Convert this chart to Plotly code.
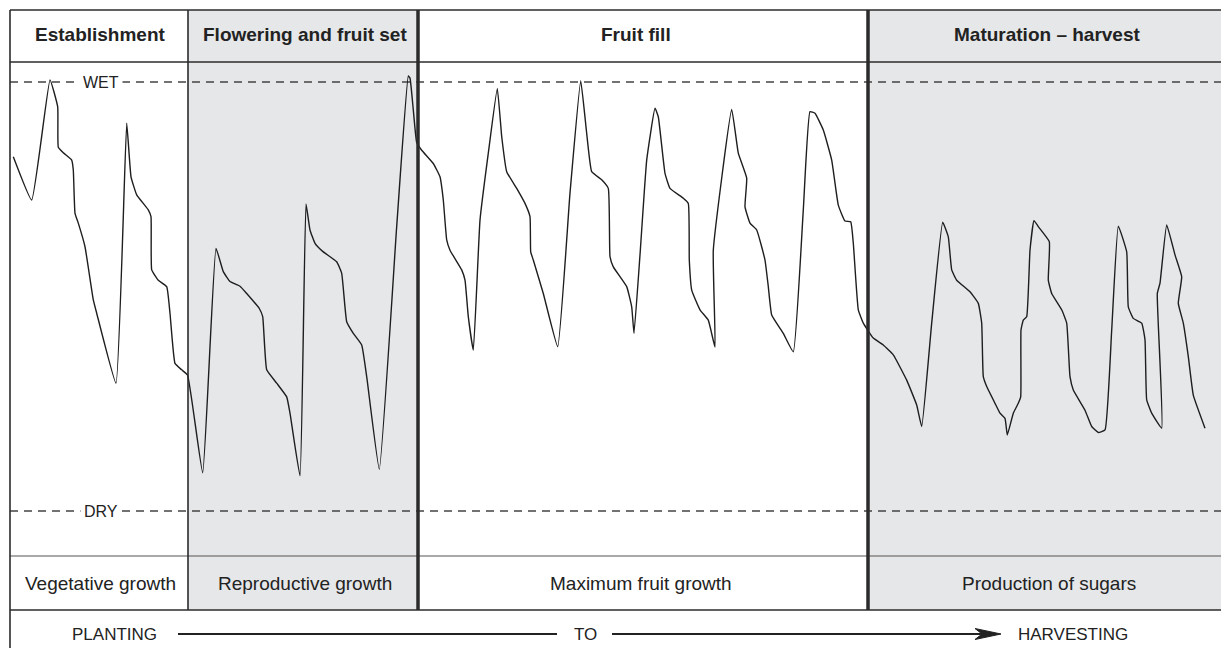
import plotly.graph_objects as go

# ---------------- data ----------------
# time axis (arbitrary units across the season) and relative soil moisture (DRY = 0, WET = 100)
time_x = [13.3, 31.7, 50, 57.7, 58.3, 63.3, 71.7, 73.3, 75, 78.3, 85, 93.3, 96.7, 116,
          126.7, 131, 136.7, 148.3, 151, 151.7, 158.3, 166.7, 170, 175, 181.7, 187.5,
          202.7, 216, 223.3, 230, 240, 246.7, 259.3, 262.7, 266.7, 276.7, 286.7, 290,
          300, 306, 310, 315, 323.3, 336.7, 341.7, 346.7, 353.3, 361.7, 366.7,
          379.3, 396.7, 408.3, 410, 413.3, 416.7, 421.7, 433.3, 440, 443.3, 446.7, 450,
          461.7, 465, 468.3, 473.3, 480, 488.3, 497.3, 501.7, 506.7, 516.7, 525, 530,
          530.7, 533.3, 543.3, 557.7, 570, 580.7, 586.7, 591.7, 601.7, 608.3, 610,
          613.3, 626.7, 631.7, 634, 640, 646.7, 655, 658.3, 665, 670, 683.3, 688.3,
          689.3, 691.7, 700, 708.3, 715, 713.3, 731.7, 738.3, 746.7, 745, 750, 756.7,
          765, 768.3, 771.7, 783.3, 793.3, 803.3, 810, 815, 823.3, 831.7, 838.3, 845,
          850.7, 853.3, 858.3, 863.3, 873.3, 883.3, 893.3, 906.7, 916.7, 921.7, 931.7,
          942.7, 948.3, 951.7, 956.7, 970, 978.3, 981.7, 983.3, 986.7, 995, 1000, 1005,
          1007.3, 1013.3, 1018.3, 1020.7, 1021, 1023.3, 1026.7, 1030, 1034, 1038.3,
          1049.3, 1048.3, 1051.7, 1061.7, 1066.7, 1070, 1073.3, 1085, 1091.7, 1098.3,
          1105, 1111.7, 1118.3, 1126.7, 1128.3, 1133.3, 1141.7, 1145, 1146.7, 1151.7,
          1161.7, 1157.3, 1160, 1166.7, 1175, 1181.7, 1178.3, 1183.3, 1188.3, 1193.3,
          1205]
moisture = [82.6, 72.5, 100.5, 94.2, 84.8, 83.5, 81.8, 79.5, 69.4, 67.1, 61.6, 49.2, 46.1, 29.8,
            90.4, 77.9, 73.7, 70.2, 68.6, 56.2, 53.8, 52.3, 46.1, 34.4, 32.9, 31.7,
            8.9, 61.2, 55.8, 53.5, 52.4, 50.7, 47.2, 45.3, 32.9, 29.8, 26.6, 22.8,
            8.2, 71.6, 65.5, 62.4, 60.4, 58.1, 55.4, 44.1, 41.4, 38.7, 31.3,
            9.7, 66.3, 101.4, 100.9, 93.5, 85.9, 84.1, 81.0, 77.9, 72.5, 63.2, 60.8,
            56.2, 53.8, 45.3, 37.5, 67.8, 83.4, 98.5, 87.3, 79.1, 75.2, 71.7, 68.6,
            60.4, 58.5, 50.7, 38.3, 74.1, 100.3, 88.0, 79.1, 77.2, 75.2, 59.3,
            56.9, 52.3, 47.6, 41.4, 59.7, 81.8, 93.9, 91.9, 78.7, 75.2, 72.9, 71.7,
            58.5, 51.5, 46.9, 44.5, 38.2, 60.8, 93.6, 83.4, 77.6, 70.9, 67.1, 65.5,
            58.5, 52.3, 45.7, 41.4, 37.1, 70.2, 93.1, 92.7, 88.8, 81.8, 71.3, 67.6,
            67.4, 62.4, 46.9, 43.8, 40.3, 38.7, 36.4, 30.5, 24.7, 19.7, 43.8,
            67.3, 63.9, 56.2, 53.8, 51.1, 48.4, 43.8, 31.3, 29.0, 25.1, 22.8, 21.6,
            17.7, 22.8, 25.1, 26.6, 42.2, 44.5, 45.3, 60.8, 67.7, 66.3,
            62.8, 53.8, 50.7, 46.9, 43.8, 31.3, 28.2, 23.5, 19.7, 18.3,
            18.9, 42.2, 66.4, 60.4, 47.6, 44.9, 43.8, 39.9, 25.9, 22.8,
            19.3, 50.7, 53.1, 66.7, 59.7, 54.6, 48.4, 43.8, 36.0, 27.0,
            19.3]

stage_bounds = [10, 188, 418, 868, 1221]
stage_names = ["Establishment", "Flowering and fruit set", "Fruit fill", "Maturation \u2013 harvest"]
growth_names = ["Vegetative growth", "Reproductive growth", "Maximum fruit growth", "Production of sugars"]
stage_shaded = [False, True, False, True]
wet_level, dry_level = 100, 0
timeline_labels = ["PLANTING", "TO", "HARVESTING"]

# ---------------- layout helpers ----------------
W, H = 1221, 648
Y0 = -137 * 100 / 429
Y1 = Y0 + H * 100 / 429


def py(p):
    return 1 - p / H


TOP, HEAD, ROW, ROWB = 10, 62, 556, 610
LINE = "#2b2b2b"
GRAY = "#e6e7e9"

shapes = []
for i in range(4):
    if stage_shaded[i]:
        x1 = stage_bounds[i + 1] + (10 if i == 3 else 0)
        shapes.append(dict(type="rect", xref="x", yref="paper", x0=stage_bounds[i], x1=x1,
                           y0=py(ROWB), y1=py(TOP), fillcolor=GRAY, line=dict(width=0), layer="below"))

# dashed WET / DRY lines
for lvl in (wet_level, dry_level):
    shapes.append(dict(type="line", xref="x", yref="y", x0=stage_bounds[0], x1=W + 5, y0=lvl, y1=lvl,
                       line=dict(color="#444", width=1.3, dash="8px,6px"), layer="below"))

# horizontal rules
for yy, w, c in ((TOP, 1.6, LINE), (HEAD, 1.6, LINE), (ROW, 1.2, "#555"), (ROWB, 1.6, LINE)):
    shapes.append(dict(type="line", xref="x", yref="paper", x0=stage_bounds[0], x1=W + 5,
                       y0=py(yy), y1=py(yy), line=dict(color=c, width=w)))
# left border
shapes.append(dict(type="line", xref="x", yref="paper", x0=stage_bounds[0], x1=stage_bounds[0],
                   y0=py(TOP), y1=0, line=dict(color=LINE, width=1.6)))
# stage dividers
for b, w in zip(stage_bounds[1:4], (1.6, 3.5, 3.5)):
    shapes.append(dict(type="line", xref="x", yref="paper", x0=b, x1=b, y0=py(TOP), y1=py(ROWB),
                       line=dict(color=LINE, width=w)))

# timeline arrow
AY = 634
shapes.append(dict(type="line", xref="x", yref="paper", x0=178, x1=557, y0=py(AY), y1=py(AY),
                   line=dict(color="#222", width=2)))
shapes.append(dict(type="line", xref="x", yref="paper", x0=612, x1=985, y0=py(AY), y1=py(AY),
                   line=dict(color="#222", width=2)))
shapes.append(dict(type="path", xref="x", yref="paper",
                   path=f"M 975 {py(AY-5.5)} L 1001 {py(AY)} L 975 {py(AY+5.5)} L 982 {py(AY)} Z",
                   fillcolor="#222", line=dict(color="#222", width=1)))

FONT = "Liberation Sans, Arial, Helvetica, sans-serif"
annotations = []
head_x = [100, 305, 636, 1047]
lab_x = [100, 305, 641, 1049]
for i in range(4):
    annotations.append(dict(x=head_x[i], y=py(34), xref="x", yref="paper", text=f"<b>{stage_names[i]}</b>",
                            showarrow=False, font=dict(family=FONT, size=19, color="#222"),
                            xanchor="center", yanchor="middle"))
    annotations.append(dict(x=lab_x[i], y=py(583), xref="x", yref="paper", text=growth_names[i],
                            showarrow=False, font=dict(family=FONT, size=19, color="#222"),
                            xanchor="center", yanchor="middle"))

for lvl, txt in ((wet_level, "WET"), (dry_level, "DRY")):
    annotations.append(dict(x=101, y=lvl, xref="x", yref="y", text=txt, showarrow=False,
                            font=dict(family=FONT, size=16, color="#222"), bgcolor="white",
                            borderpad=3, xanchor="center", yanchor="middle"))

for xx, txt, anc in ((114, timeline_labels[0], "center"), (585, timeline_labels[1], "center"),
                     (1016, timeline_labels[2], "left")):
    annotations.append(dict(x=xx, y=py(AY), xref="x", yref="paper", text=txt, showarrow=False,
                            font=dict(family=FONT, size=17, color="#222"), xanchor=anc, yanchor="middle"))

fig = go.Figure()
fig.add_trace(go.Scatter(x=time_x, y=moisture, mode="lines",
                         line=dict(color="#1e1e1e", width=1.4, shape="spline", smoothing=0.35),
                         hoverinfo="skip", showlegend=False))

fig.update_layout(
    width=W, height=H, margin=dict(l=0, r=0, t=0, b=0),
    paper_bgcolor="white", plot_bgcolor="rgba(0,0,0,0)",
    xaxis=dict(range=[0, W], visible=False, fixedrange=True),
    yaxis=dict(range=[Y0, Y1], visible=False, fixedrange=True),
    shapes=shapes, annotations=annotations, showlegend=False,
)

fig.write_html("out.html", config={"displayModeBar": False},
               post_script="document.body.style.margin='0';document.body.style.overflow='hidden';")
